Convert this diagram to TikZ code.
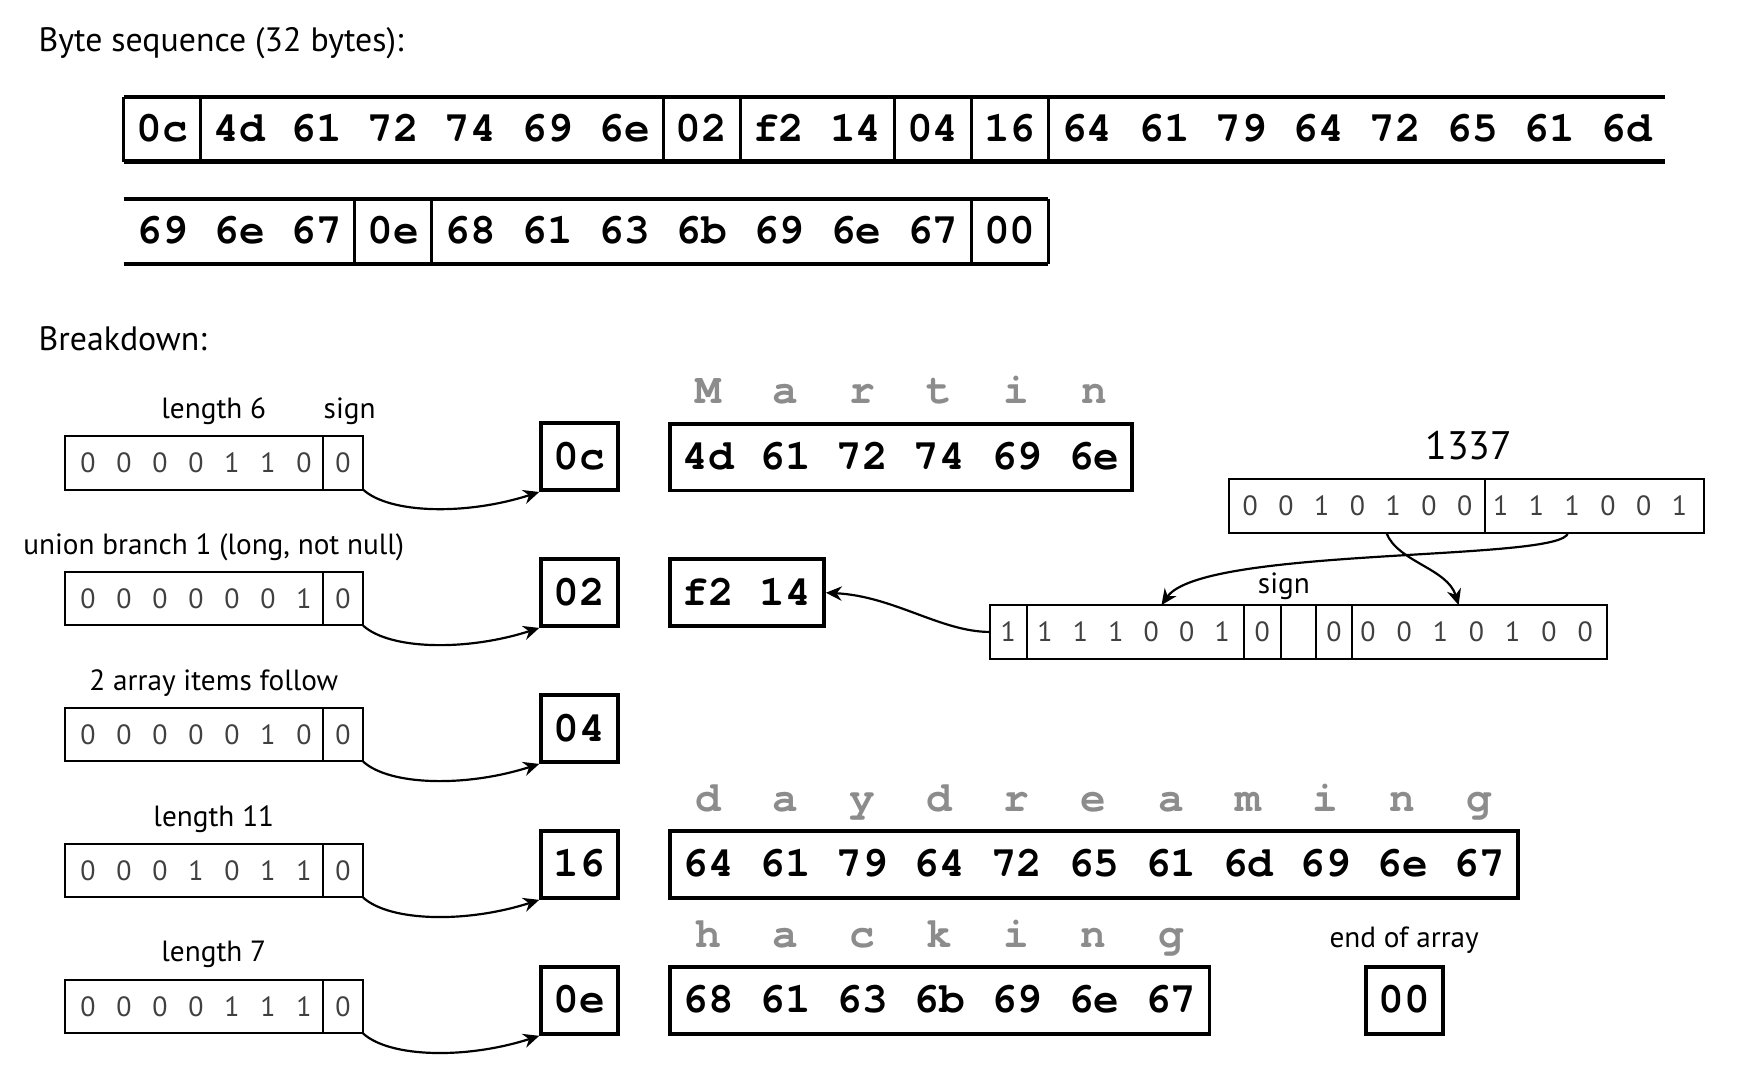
\documentclass[tikz,border=0pt]{standalone}
\usepackage{fontspec}
\usetikzlibrary{arrows.meta,positioning}
\newfontfamily\labfont{PT Sans}
\newfontfamily\hexfont{TeX Gyre Cursor}
\definecolor{lettergray}{RGB}{140,140,140}

\begin{document}
\begin{tikzpicture}[x=0.28pt, y=-0.28pt,
    lbl/.style={font=\labfont\fontsize{7.35}{9}\selectfont, inner sep=0pt, anchor=base},
    heading/.style={font=\labfont\fontsize{8.5}{10}\selectfont, inner sep=0pt, anchor=base west},
    hex/.style={font=\hexfont\bfseries\fontsize{10.77}{12}\selectfont, inner sep=0pt, outer sep=0pt, text height=6.2pt, text depth=0pt},
    rowgroup/.style={hex, minimum height=16.3pt, minimum width=#1*19.38pt},
    bytebox/.style={hex, draw, line width=0.95pt, outer sep=0.45pt, minimum height=16.8pt, minimum width=#1*19.38pt},
    bytebox/.default=1,
    letters/.style={font=\hexfont\bfseries\fontsize{10.77}{12}\selectfont, text=lettergray, inner sep=0pt},
    bitcell/.style={draw, line width=0.5pt, outer sep=0pt, inner sep=0pt, minimum height=13.5pt, minimum width=#1*0.28pt},
    bit/.style={font=\labfont\fontsize{7}{8}\selectfont, text=black!75, inner sep=0pt, text height=4.9pt, text depth=0pt},
    rowrule/.style={line width=1.1pt},
    rowsep/.style={line width=0.7pt},
    conn/.style={-{Stealth[length=4pt, width=3.6pt]}, line width=0.55pt}]

    \useasboundingbox (0,0) rectangle (1568,968);

    % byte sequence, first line
    \node[heading] (title) at (34,46.5) {Byte sequence (32 bytes):};
    \node[rowgroup=1, anchor=west] (t0c) at (111,116) {0c};
    \node[rowgroup=6, anchor=west] (tname) at (t0c.east) {4d 61 72 74 69 6e};
    \node[rowgroup=1, anchor=west] (t02) at (tname.east) {02};
    \node[rowgroup=2, anchor=west] (tf214) at (t02.east) {f2 14};
    \node[rowgroup=1, anchor=west] (t04) at (tf214.east) {04};
    \node[rowgroup=1, anchor=west] (t16) at (t04.east) {16};
    \node[rowgroup=8, anchor=west] (tday) at (t16.east) {64 61 79 64 72 65 61 6d};
    \draw[rowrule] (t0c.north west) -- (tday.north east);
    \draw[rowrule] (t0c.south west) -- (tday.south east);
    \foreach \g in {t0c,tname,t02,tf214,t04,t16,tday}
        \draw[rowsep] (\g.north west) -- (\g.south west);

    % byte sequence, second line
    \node[rowgroup=3, anchor=west] (tdayend) at (111,208) {69 6e 67};
    \node[rowgroup=1, anchor=west] (t0e) at (tdayend.east) {0e};
    \node[rowgroup=7, anchor=west] (thack) at (t0e.east) {68 61 63 6b 69 6e 67};
    \node[rowgroup=1, anchor=west] (t00) at (thack.east) {00};
    \draw[rowrule] (tdayend.north west) -- (t00.north east);
    \draw[rowrule] (tdayend.south west) -- (t00.south east);
    \foreach \g in {tdayend,t0e,thack,t00}
        \draw[rowsep] (\g.north east) -- (\g.south east);

    % breakdown, left column
    \node[heading] (breakdown) at (34,315) {Breakdown:};
    \foreach \r/\txt/\bitlist/\byte in {0/length 6/{0,0,0,0,1,1,0}/0c,1/{union branch 1 (long, not null)}/{0,0,0,0,0,0,1}/02,2/2 array items follow/{0,0,0,0,0,1,0}/04,3/length 11/{0,0,0,1,0,1,1}/16,4/length 7/{0,0,0,0,1,1,1}/0e} {
        \pgfmathsetmacro\yc{415.5+122.1*\r}
        \node[bitcell=232] (bits\r) at (174,\yc) {};
        \node[bitcell=36, anchor=west] (sign\r) at (bits\r.east) {};
        \foreach \d [count=\k from 0] in \bitlist
            \node[bit] at ({176+(\k-3)*32.3},\yc) {\d};
        \node[bit] at (sign\r) {0};
        \node[lbl] (lab\r) at (192,\yc-40) {\txt};
        \node[bytebox] (byte\r) at (520.5,\yc-5.3) {\byte};
        \draw[conn] (sign\r.south east) .. controls +(24,22) and +(-65,21) .. (byte\r.south west);
    }
    \node[lbl] (signlab) at (314,375.5) {sign};

    % string "Martin"
    \node[bytebox=6, anchor=west] (name) at (600,410.5) {4d 61 72 74 69 6e};
    \node[letters, above=4.6pt of name, anchor=base] (namelet) {M~~a~~r~~t~~i~~n};

    % long 1337, zig-zag
    \node[bytebox=2, anchor=west] (zigzag) at (600,532.3) {f2 14};
    \node[lbl, font=\labfont\fontsize{10}{12}\selectfont] (numlab) at (1319,412.5) {1337};
    \node[bitcell=230, anchor=east] (numhi) at (1334,454.5) {};
    \node[bitcell=196, anchor=west] (numlo) at (numhi.east) {};
    \foreach \d [count=\k from 0] in {0,0,1,0,1,0,0}
        \node[bit] at ({1219+(\k-3)*32.1},454.5) {\d};
    \foreach \d [count=\k from 0] in {1,1,1,0,0,1}
        \node[bit] at ({1428+(\k-2.5)*32.1},454.5) {\d};

    \node[bitcell=33, anchor=west] (topbit) at (889,567.5) {};
    \node[bitcell=195, anchor=west] (lowbits) at (topbit.east) {};
    \node[bitcell=33, anchor=west] (contbit) at (lowbits.east) {};
    \node[bitcell=32, anchor=west] (blank) at (contbit.east) {};
    \node[bitcell=32, anchor=west] (contbittwo) at (blank.east) {};
    \node[bitcell=229, anchor=west] (highbits) at (contbittwo.east) {};
    \node[bit] at (topbit) {1};
    \foreach \d [count=\k from 0] in {1,1,1,0,0,1}
        \node[bit] at ({1018+(\k-2.5)*31.8},567.5) {\d};
    \node[bit] at (contbit) {0};
    \node[bit] at (contbittwo) {0};
    \foreach \d [count=\k from 0] in {0,0,1,0,1,0,0}
        \node[bit] at ({1326+(\k-3)*32.5},567.5) {\d};
    \node[lbl] (signlabtwo) at (1153,532.7) {sign};

    \draw[conn] ([xshift=-6.7pt]numlo.south) .. controls +(-4,26) and +(37,-53) .. ([xshift=6.6pt]lowbits.north);
    \draw[conn] ([xshift=7.3pt]numhi.south) .. controls +(10,26) and +(-10,-33) .. ([xshift=-5.2pt]highbits.north);
    \draw[conn] (topbit.west) .. controls +(-44,0) and +(61,3) .. (zigzag.east);

    % array of strings
    \node[bytebox=11, anchor=west] (day) at (600,776.5) {64 61 79 64 72 65 61 6d 69 6e 67};
    \node[letters, above=4.6pt of day, anchor=base] (daylet) {d~~a~~y~~d~~r~~e~~a~~m~~i~~n~~g};
    \node[bytebox=7, anchor=west] (hack) at (600,898.6) {68 61 63 6b 69 6e 67};
    \node[letters, above=4.6pt of hack, anchor=base] (hacklet) {h~~a~~c~~k~~i~~n~~g};
    \node[bytebox] (terminator) at (1261,898.6) {00};
    \node[lbl, above=4.6pt of terminator, anchor=base] (endlab) {end of array};
\end{tikzpicture}
\end{document}
